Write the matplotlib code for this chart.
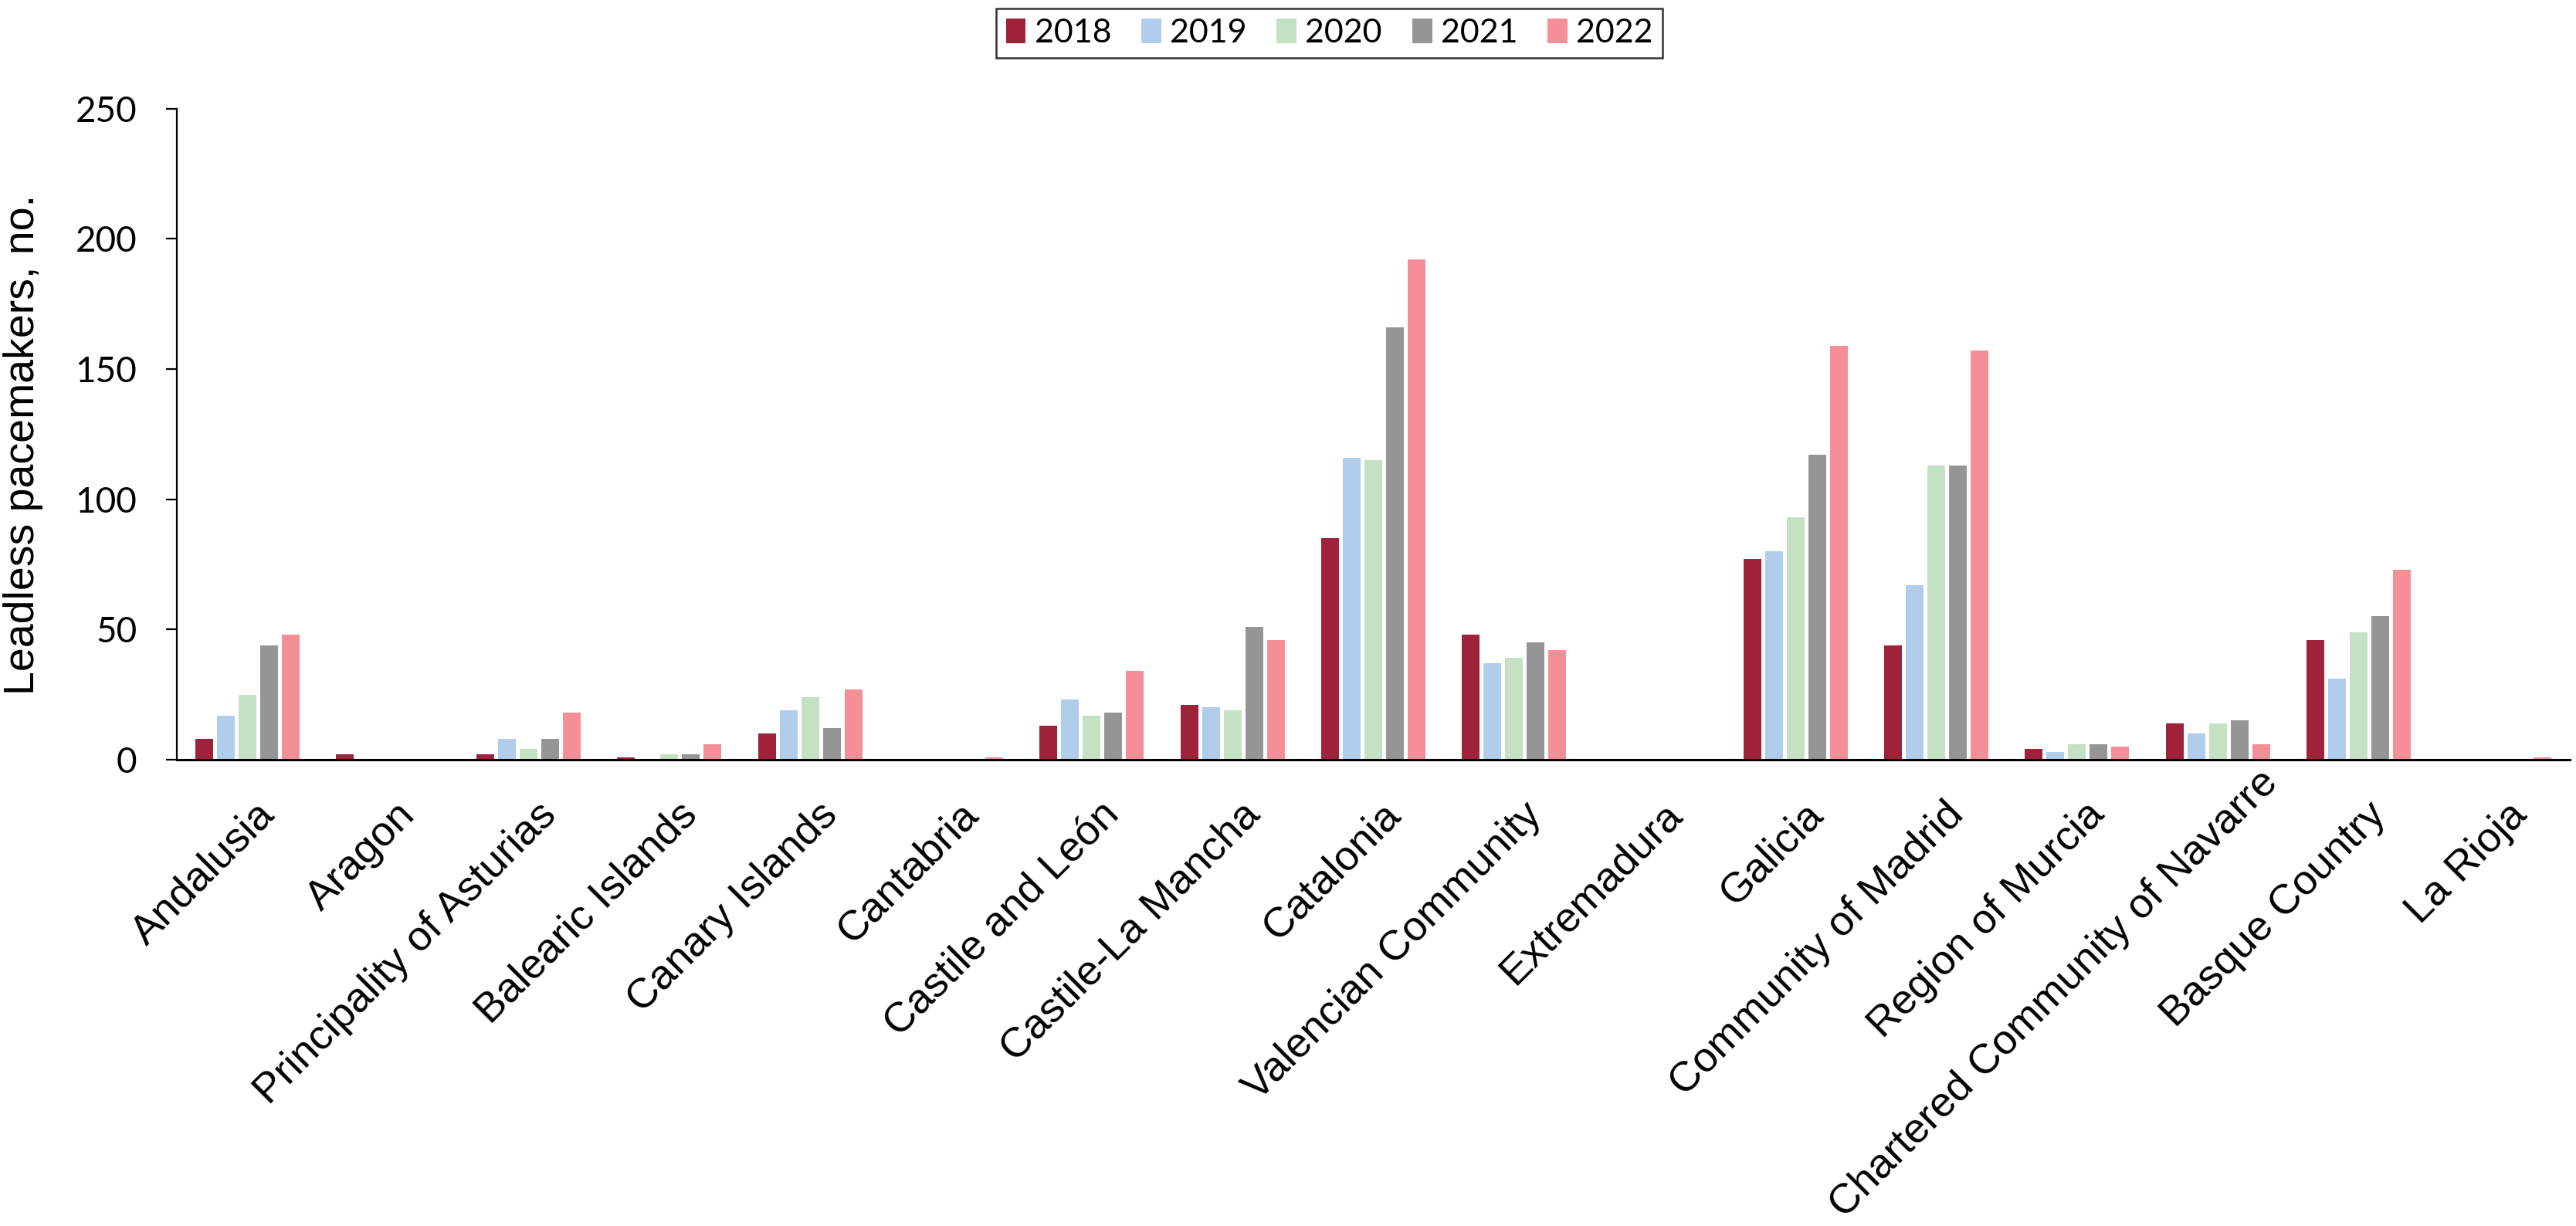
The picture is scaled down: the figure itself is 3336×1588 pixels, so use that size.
import numpy as np
import matplotlib.pyplot as plt
from matplotlib.transforms import ScaledTranslation, Affine2D

regions = ["Andalusia", "Aragon", "Principality of Asturias", "Balearic Islands",
           "Canary Islands", "Cantabria", "Castile and León", "Castile-La Mancha",
           "Catalonia", "Valencian Community", "Extremadura", "Galicia",
           "Community of Madrid", "Region of Murcia", "Chartered Community of Navarre",
           "Basque Country", "La Rioja"]
years = ["2018", "2019", "2020", "2021", "2022"]

v2018 = [8, 2, 2, 1, 10, 0, 13, 21, 85, 48, 0, 77, 44, 4, 14, 46, 0]
v2019 = [17, 0, 8, 0, 19, 0, 23, 20, 116, 37, 0, 80, 67, 3, 10, 31, 0]
v2020 = [25, 0, 4, 2, 24, 0, 17, 19, 115, 39, 0, 93, 113, 6, 14, 49, 0]
v2021 = [44, 0, 8, 2, 12, 0, 18, 51, 166, 45, 0, 117, 113, 6, 15, 55, 0]
v2022 = [48, 0, 18, 6, 27, 1, 34, 46, 192, 42, 0, 159, 157, 5, 6, 73, 1]

colors = ["#9E2239", "#B0CDEB", "#C4E1C4", "#969595", "#F48F97"]

fig = plt.figure(figsize=(33.37, 15.88), dpi=100)
ax = fig.add_axes([0.0686, 0.3804, 0.9287, 0.5309])

x = np.arange(len(regions))
step = 0.1536
series = [v2018, v2019, v2020, v2021, v2022]
for i, vals in enumerate(series):
    ax.bar(x + (i - 2) * step, vals, width=0.126, color=colors[i], label=years[i], zorder=2)

ax.set_xlim(-0.5, len(regions) - 0.5)
ax.set_ylim(0, 250)
ax.set_yticks([0, 50, 100, 150, 200, 250])

ax.spines["top"].set_visible(False)
ax.spines["right"].set_visible(False)
ax.spines["left"].set_linewidth(1.6)
ax.spines["bottom"].set_linewidth(2.2)

ax.tick_params(axis="y", length=10, width=1.6, pad=27, labelsize=33)
for lab in ax.get_yticklabels():
    lab.set_fontfamily("Lato")
ax.tick_params(axis="x", length=0, pad=0)
ax.set_xticks(x)
ax.set_xticklabels(regions, rotation=45, ha="right", va="top", rotation_mode="anchor",
                   fontsize=39, family="Liberation Sans")
# shift labels a bit right / down like the original
off = ScaledTranslation(0.10, -0.46, fig.dpi_scale_trans)
for lab in ax.get_xticklabels():
    lab.set_transform(lab.get_transform() + off)

ax.set_ylabel("Leadless pacemakers, no.", fontsize=40, family="Liberation Sans")
ax.yaxis.set_label_coords(-0.0558, 0.484)

leg = ax.legend(loc="upper center", bbox_to_anchor=(0.5159, 0.9931),
                bbox_transform=fig.transFigure, ncol=5,
                frameon=True, fancybox=False, prop={"family": "Lato", "size": 31},
                handlelength=0.6, handleheight=0.75, handletextpad=0.26,
                columnspacing=0.9, borderpad=0.3, borderaxespad=0)
leg.get_frame().set_edgecolor("black")
leg.get_frame().set_linewidth(1.8)

# long labels get pushed up along their slope so they stay inside the figure
fig.canvas.draw()
r = fig.canvas.get_renderer()
for lab in ax.get_xticklabels():
    bb = lab.get_window_extent(r)
    if bb.y0 < 1:
        d = 1 - bb.y0
        lab.set_transform(lab.get_transform() + Affine2D().translate(d, d))

fig.savefig("out.png", dpi=100)
